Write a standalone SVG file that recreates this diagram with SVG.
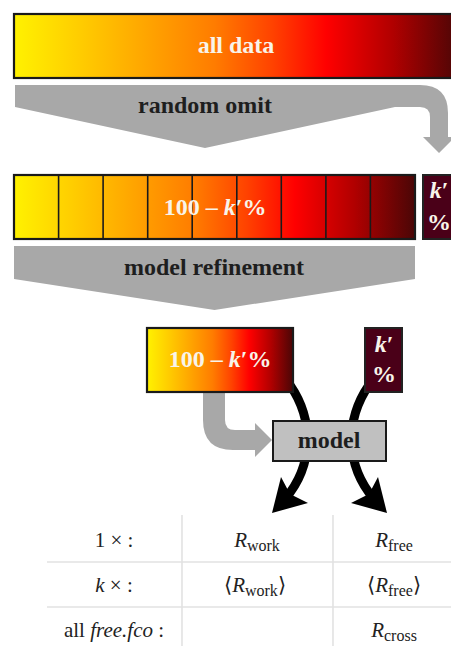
<svg xmlns="http://www.w3.org/2000/svg" width="451" height="646" viewBox="0 0 451 646">
<defs>
<linearGradient id="heat" x1="0" y1="0" x2="1" y2="0">
<stop offset="0" stop-color="#fff200"/>
<stop offset="0.15" stop-color="#ffcc00"/>
<stop offset="0.3" stop-color="#ffa400"/>
<stop offset="0.45" stop-color="#ff7c00"/>
<stop offset="0.58" stop-color="#ff4200"/>
<stop offset="0.7" stop-color="#ff0000"/>
<stop offset="0.85" stop-color="#b00000"/>
<stop offset="1" stop-color="#4a0606"/>
</linearGradient>
<style>
.bar{fill:url(#heat);stroke:#1a1a1a;stroke-width:2.2}
.cell{stroke:#1a1a1a;stroke-width:1.6}
.maroon{fill:#4a0018;stroke:#222;stroke-width:2}
.grey{fill:#a8a8a8}
.blk{fill:none;stroke:#000;stroke-width:9}
.head{fill:#000}
.lbl{font-family:"Liberation Serif",serif;font-weight:bold;font-size:24px;fill:#1e1e1e;text-anchor:middle}
.wht{font-family:"Liberation Serif",serif;font-weight:bold;font-size:24px;fill:#f8f4ea;text-anchor:middle}
.tab{font-family:"Liberation Serif",serif;font-size:21px;fill:#222;text-anchor:middle}
.sub{font-size:16px}
.it{font-style:italic}
.grid{stroke:#e2e2e2;stroke-width:1.6}
</style>
</defs>

<g id="connectors">
  <g id="random-omit">
    <path class="grey" d="M15,85 L420,85 Q448,85 448,113 L448,137 L455,137 L439,153 L423,137 L430,137 L430,117 Q430,107 420,107 L395,107 L205,148 L15,107 Z"/>
    <text class="lbl" x="205" y="113">random omit</text>
  </g>
  <g id="model-refinement">
    <path class="grey" d="M14,246 L415,246 L415,279 L214.5,310 L14,279 Z"/>
    <text class="lbl" x="214" y="275">model refinement</text>
  </g>
  <path id="work-to-model" class="grey" d="M203,390 L225,390 L225,420 Q225,430 235,430 L255,430 L255,423 L272,440 L255,457 L255,450 L233,450 Q203,450 203,420 Z"/>
  <g id="to-rwork">
    <path class="blk" d="M290,385 C314,420 314,465 285,499"/>
    <polygon class="head" points="272,513 281,477 290,494 308,503"/>
  </g>
  <g id="to-rfree">
    <path class="blk" d="M369,385 C345,420 345,465 374,499"/>
    <polygon class="head" points="387,513 378,477 369,494 351,503"/>
  </g>
</g>

<g id="all-data">
  <rect class="bar" x="14" y="14" width="446" height="64"/>
  <text class="wht" x="236" y="53">all data</text>
</g>

<g id="work-set">
  <rect class="bar" x="14" y="175" width="401" height="64"/>
  <g class="cell">
    <line x1="58.6" y1="175" x2="58.6" y2="239"/>
    <line x1="103.1" y1="175" x2="103.1" y2="239"/>
    <line x1="147.7" y1="175" x2="147.7" y2="239"/>
    <line x1="192.2" y1="175" x2="192.2" y2="239"/>
    <line x1="236.8" y1="175" x2="236.8" y2="239"/>
    <line x1="281.3" y1="175" x2="281.3" y2="239"/>
    <line x1="325.9" y1="175" x2="325.9" y2="239"/>
    <line x1="370.4" y1="175" x2="370.4" y2="239"/>
  </g>
  <text class="wht" x="215" y="215">100 – <tspan class="it">k</tspan>′%</text>
</g>

<g id="free-set">
  <rect class="maroon" x="423" y="175" width="34" height="64"/>
  <text class="wht" x="439" y="198"><tspan class="it">k</tspan>′</text>
  <text class="wht" x="439" y="230">%</text>
</g>

<g id="work-part">
  <rect class="bar" x="147" y="328" width="146" height="64"/>
  <text class="wht" x="220" y="367">100 – <tspan class="it">k</tspan>′%</text>
</g>

<g id="free-part">
  <rect class="maroon" x="365" y="328" width="37" height="64"/>
  <text class="wht" x="384" y="352"><tspan class="it">k</tspan>′</text>
  <text class="wht" x="384" y="382">%</text>
</g>

<g id="model">
  <rect x="273" y="421" width="113" height="40" fill="#c0c0c0" stroke="#1a1a1a" stroke-width="2"/>
  <text class="lbl" x="329" y="448">model</text>
</g>

<g id="table">
  <line class="grid" x1="182" y1="515" x2="182" y2="646"/>
  <line class="grid" x1="333" y1="515" x2="333" y2="646"/>
  <line class="grid" x1="47" y1="562" x2="451" y2="562"/>
  <line class="grid" x1="47" y1="607" x2="451" y2="607"/>
  <text class="tab" x="114" y="547">1 × :</text>
  <text class="tab" x="257" y="547"><tspan class="it">R</tspan><tspan class="sub" dy="4">work</tspan></text>
  <text class="tab" x="394" y="547"><tspan class="it">R</tspan><tspan class="sub" dy="4">free</tspan></text>
  <text class="tab" x="114" y="592"><tspan class="it">k</tspan> × :</text>
  <text class="tab" x="255" y="592">⟨<tspan class="it">R</tspan><tspan class="sub" dy="4">work</tspan><tspan dy="-4">⟩</tspan></text>
  <text class="tab" x="394" y="592">⟨<tspan class="it">R</tspan><tspan class="sub" dy="4">free</tspan><tspan dy="-4">⟩</tspan></text>
  <text class="tab" x="114" y="637">all <tspan class="it">free.fco</tspan> :</text>
  <text class="tab" x="394" y="637"><tspan class="it">R</tspan><tspan class="sub" dy="4">cross</tspan></text>
</g>
</svg>
